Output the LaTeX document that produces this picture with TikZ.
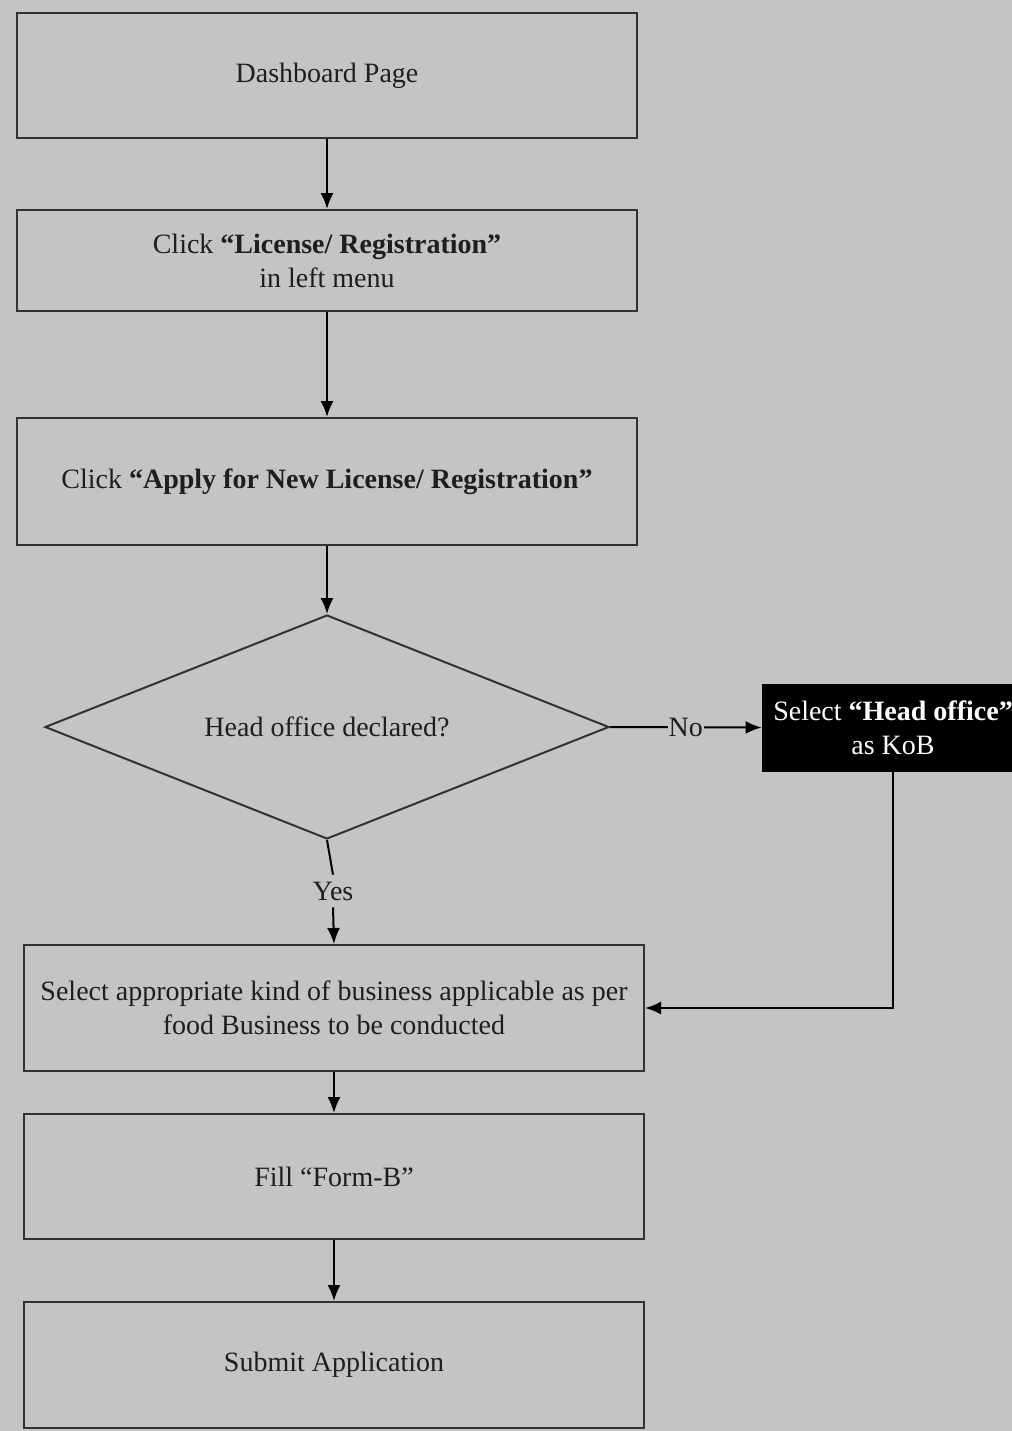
\documentclass[tikz,border=0pt]{standalone}
\usepackage{fontspec}
\setmainfont{Liberation Serif}
\usetikzlibrary{arrows.meta, shapes.geometric, positioning, calc}
\definecolor{bggray}{RGB}{196,196,196}
\definecolor{edgegray}{RGB}{50,50,50}
\definecolor{inkgray}{RGB}{30,30,30}

\begin{document}
\begin{tikzpicture}[x=0.5pt,y=-0.5pt,
  every node/.style={font=\fontsize{14}{17}\selectfont,text=inkgray,align=center},
  stepbox/.style={draw=edgegray,line width=1pt,fill=bggray,minimum width=310pt,inner sep=0pt},
  darkbox/.style={draw=black,fill=black,text=white,minimum width=131pt,minimum height=43.5pt,inner sep=0pt},
  decision/.style={diamond,aspect=2.5,draw=edgegray,line width=1pt,fill=bggray,minimum width=282pt,minimum height=112pt,inner sep=0pt},
  flow/.style={-{Latex[length=8pt,width=6.5pt]},line width=1pt,black}]
\fill[bggray] (0,0) rectangle (1012,1431);
\useasboundingbox (0,0) rectangle (1012,1431);
\clip (0,0) rectangle (1012,1431);
\node[stepbox,minimum height=62.5pt] (dash) at (327,75.5) {Dashboard Page};
\node[stepbox,minimum height=50.5pt] (menu) at (327,260.5) {Click \textbf{“License/ Registration”}\\in left menu};
\node[stepbox,minimum height=63.5pt] (apply) at (327,481.5) {Click \textbf{“Apply for New License/ Registration”}};
\node[decision] (head) at (327,727) {Head office declared?};
\node[darkbox] (kob) at (893,727.5) {\color{white}Select \textbf{“Head office”}\\\color{white}as KoB};
\node (yes) at (333,891) {Yes};
\node[stepbox,minimum height=63pt] (kind) at (334,1008) {Select appropriate kind of business applicable as per\\food Business to be conducted};
\node[stepbox,minimum height=62.5pt] (form) at (334,1176.5) {Fill “Form-B”};
\node[stepbox,minimum height=63pt] (submit) at (334,1365) {Submit Application};
\draw[flow] (dash) -- (menu);
\draw[flow] (menu) -- (apply);
\draw[flow] (apply) -- (head);
\draw[flow] (head.east) -- node[fill=bggray,inner sep=0.5pt] {No} (kob.west);
\draw[line width=1pt] (head.south) -- (yes.north);
\draw[flow] (yes.south) -- (kind.north);
\draw[flow] (kob.south) |- (kind.east);
\draw[flow] (kind) -- (form);
\draw[flow] (form) -- (submit);
\end{tikzpicture}
\end{document}
